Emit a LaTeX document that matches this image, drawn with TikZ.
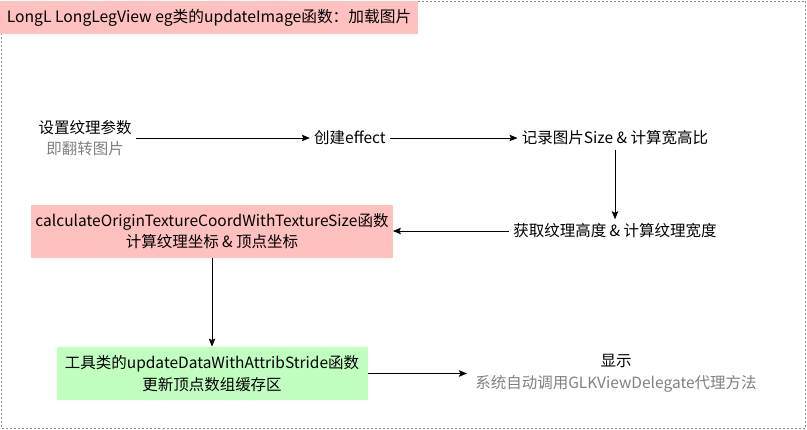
\documentclass[tikz,border=0pt]{standalone}
\usepackage{fontspec}
\setmainfont{Noto Sans CJK SC}
\usetikzlibrary{positioning}
\usetikzlibrary{arrows.meta}
\definecolor{boxred}{HTML}{FFC0C0}
\definecolor{boxgreen}{HTML}{C0FFC0}
\definecolor{txtgray}{HTML}{808080}
\definecolor{framegray}{HTML}{8A8A8A}

\begin{document}
\begin{tikzpicture} [x=1pt, y=-1pt, thick, on grid,
        every node/.style = {font=\fontsize{15.5pt}{21.5pt}\selectfont, align=center, inner sep=4pt},
        step box/.style = {minimum height=53pt},
        frame/.style = {draw=framegray, line width=0.9pt, dash pattern=on 2pt off 2pt},
        flow/.style = {-{Stealth[length=8pt, width=6.5pt, inset=1.5pt]}}]
        \useasboundingbox (0,0) rectangle (807,429);

        %Rahmen
        \draw[frame] (1.5,1) rectangle (805.5,428);
        \node[fill=boxred, minimum width=418pt, minimum height=33pt, font=\fontsize{15.7pt}{17pt}\selectfont] (title) at (209,17.5) {LongL LongLegView eg类的updateImage函数：加载图片};

        %Knoten
        \node (param) at (85,138) {设置纹理参数\\\textcolor{txtgray}{即翻转图片}};
        \node (effect) [right = 265pt of param] {创建effect};
        \node (ratio) [right = 265pt of effect] {记录图片Size \& 计算宽高比};
        \node (tex) [below = 93pt of ratio] {获取纹理高度 \& 计算纹理宽度};

        \node[step box, fill=boxred, minimum width=359pt] (coord) [left = 403pt of tex] {calculateOriginTextureCoordWithTextureSize函数\\计算纹理坐标 \& 顶点坐标};
        \node[step box, fill=boxgreen, minimum width=311pt] (stride) [below = 142.5pt of coord] {工具类的updateDataWithAttribStride函数\\更新顶点数组缓存区};

        \node (show) [right = 404pt of stride] {显示\\\textcolor{txtgray}{系统自动调用GLKViewDelegate代理方法}};

        %Kanten
        \draw[flow] (param) -- (effect);
        \draw[flow] (effect) -- (ratio);
        \draw[flow] (ratio) -- (tex);
        \draw[flow] (tex) -- (coord);
        \draw[flow] (coord) -- (stride);
        \draw[flow, shorten >=4pt] (stride) -- (show);

    \end{tikzpicture}
\end{document}
